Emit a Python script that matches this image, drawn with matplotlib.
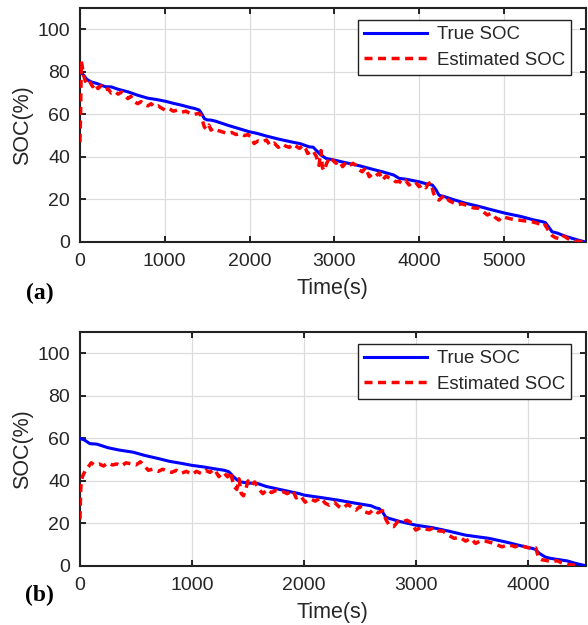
import matplotlib
matplotlib.use('Agg')
import matplotlib.pyplot as plt

plt.rcParams['font.family'] = ['Liberation Sans', 'DejaVu Sans']

# ---- panel (a) ----
t_true_a = [0, 30, 80, 130, 200, 300, 370, 450, 565, 680,
            800, 900, 1004, 1100, 1200, 1300, 1350, 1408, 1440, 1467,
            1500, 1545, 1600, 1741, 1900, 2000, 2094, 2200, 2350, 2500,
            2600, 2706, 2750, 2784, 2840, 2902, 3000, 3176, 3300, 3450,
            3568, 3700, 3765, 3850, 4000, 4100, 4157, 4200, 4235, 4300,
            4400, 4549, 4700, 4850, 5020, 5200, 5350, 5450, 5490, 5530,
            5569, 5630, 5686, 5750, 5850, 5961]
soc_true_a = [80.5, 79, 76.5, 75.3, 74.5, 73, 72.9, 71.8, 70.6, 69,
              67.6, 67, 66.2, 65.2, 64.3, 63.2, 62.8, 62, 60, 58,
              57.4, 57.3, 56.8, 54.9, 53, 51.8, 51, 49.8, 48.3, 47,
              46.2, 44.7, 44.6, 43.2, 41, 39.3, 38.5, 36.9, 35.8, 34.2,
              33, 31.5, 29.9, 29.5, 28.3, 27.2, 26.8, 24.5, 22, 21.3,
              20, 18.2, 16.8, 15.2, 13.5, 12, 10.4, 9.6, 9.1, 7,
              4.8, 4.2, 3.3, 2.4, 1.2, 0]

t_est_a = [0, 8, 15, 25, 40, 60, 94, 120, 150, 180,
           212, 250, 290, 330, 369, 410, 450, 490, 530, 565,
           600, 640, 682, 720, 760, 800, 840, 878, 920, 960,
           1004, 1050, 1100, 1150, 1200, 1250, 1300, 1350, 1400, 1427,
           1445, 1467, 1490, 1520, 1545, 1580, 1620, 1660, 1700, 1741,
           1790, 1840, 1890, 1940, 1980, 2016, 2055, 2100, 2150, 2200,
           2240, 2290, 2340, 2390, 2430, 2470, 2510, 2550, 2590, 2630,
           2660, 2686, 2720, 2750, 2790, 2820, 2843, 2860, 2880, 2910,
           2950, 2980, 3020, 3060, 3098, 3140, 3180, 3220, 3255, 3290,
           3330, 3370, 3412, 3450, 3490, 3530, 3568, 3610, 3650, 3690,
           3725, 3765, 3800, 3840, 3882, 3920, 3960, 4000, 4040, 4080,
           4110, 4140, 4170, 4200, 4235, 4270, 4313, 4350, 4400, 4450,
           4500, 4550, 4600, 4650, 4706, 4750, 4804, 4850, 4900, 4941,
           4980, 5020, 5070, 5120, 5177, 5230, 5280, 5333, 5380, 5420,
           5451, 5490, 5530, 5570, 5610, 5647, 5680, 5720, 5760, 5800,
           5843, 5890, 5940]
soc_est_a = [47, 62, 85, 83, 79, 76, 73.7, 75, 73, 74.5,
             72.1, 73.5, 71.5, 72, 70, 70.8, 69.5, 70.5, 69, 67.4,
             68.5, 66, 65, 66, 64.5, 64, 65, 63.5, 64, 63,
             62, 62.8, 61.5, 62, 61, 61.5, 60.4, 60, 60.5, 59.6,
             57, 54.1, 53, 55, 52.6, 53.5, 52.5, 52, 51.5, 51,
             51.5, 50.5, 51, 50, 50.5, 49.4, 46.3, 47.5, 47, 48,
             45.5, 46.5, 44.5, 46, 45, 44.5, 46, 45, 44, 45.5,
             44, 41.6, 42.5, 43, 40, 36, 43, 35, 33.5, 37,
             40, 38.5, 37, 38, 35.4, 37.5, 36, 37, 36, 34,
             33, 35, 30.7, 32, 31, 32.5, 29.1, 31, 30, 29.5,
             28.3, 28.5, 27.5, 29, 26.8, 28, 28, 26, 27, 25.5,
             27.5, 28, 23, 20.5, 19.7, 21, 22, 19.5, 18.5, 17.4,
             18, 17.4, 16.5, 16, 15.8, 14.5, 12.7, 13.5, 11.5, 10.3,
             12, 11.5, 11, 10.5, 10.3, 10, 9.8, 9.5, 9, 8.5,
             7.2, 8, 5, 3, 2, 1.7, 3.3, 2.5, 1.5, 1,
             0.5, 0.3, 0]

# ---- panel (b) ----
t_true_b = [0, 40, 89, 150, 250, 350, 475, 576, 700, 800,
            900, 1000, 1100, 1200, 1288, 1330, 1370, 1407, 1440, 1500,
            1585, 1662, 1800, 1959, 2003, 2150, 2300, 2450, 2600, 2642,
            2671, 2700, 2730, 2760, 2850, 2998, 3150, 3300, 3443, 3651,
            3800, 3930, 4037, 4066, 4100, 4155, 4200, 4273, 4350, 4420,
            4500]
soc_true_b = [60, 59.2, 57.5, 57.3, 55.6, 54.5, 53.5, 52, 50.5, 49.2,
              48.3, 47.3, 46.6, 45.7, 45, 44.3, 42, 40.3, 39.5, 39,
              38.8, 37.4, 35.8, 34, 33.3, 32.2, 31, 29.6, 28.3, 27.3,
              27, 25.5, 23, 22.4, 21, 19.2, 18, 16.3, 14.5, 13,
              11.3, 9.6, 8.3, 7.8, 6, 4.2, 3.6, 3, 2.4, 1.3,
              0.3]

t_est_b = [0, 6, 12, 30, 50, 80, 100, 130, 170, 210,
           250, 290, 330, 370, 410, 460, 500, 540, 576, 610,
           650, 700, 740, 780, 820, 860, 900, 950, 1000, 1040,
           1080, 1120, 1160, 1200, 1240, 1280, 1318, 1340, 1377, 1400,
           1420, 1440, 1460, 1480, 1500, 1530, 1560, 1600, 1633, 1670,
           1710, 1750, 1810, 1850, 1900, 1930, 1970, 2010, 2060, 2100,
           2150, 2190, 2226, 2270, 2310, 2345, 2390, 2430, 2464, 2500,
           2540, 2583, 2620, 2660, 2702, 2730, 2760, 2800, 2840, 2880,
           2920, 2960, 2998, 3040, 3080, 3120, 3160, 3200, 3240, 3290,
           3340, 3390, 3443, 3490, 3532, 3580, 3620, 3670, 3720, 3770,
           3820, 3860, 3888, 3930, 3970, 4010, 4040, 4070, 4095, 4120,
           4170, 4214, 4260, 4300, 4350, 4390, 4440]
soc_est_b = [22, 35, 40.3, 43, 45, 47, 48.5, 47.5, 48, 47,
             48.5, 47.5, 48, 47, 48.5, 48, 47.5, 49, 47, 45,
             45.5, 44.5, 45.5, 44.5, 44, 45, 43.5, 44.5, 43, 44.5,
             43.5, 45, 44, 45.5, 42, 44, 41.9, 44.5, 37.2, 36,
             41, 34, 33, 36, 40, 38, 39.5, 36, 34, 36,
             34.5, 35.5, 35, 34, 35.5, 32, 33, 30, 31.5, 30.5,
             32, 29.5, 28.6, 30, 28, 27, 29, 27.5, 26.3, 28,
             25.5, 24.8, 26.5, 25, 26, 22, 19.2, 18.5, 21, 20.8,
             21.5, 20.3, 16.9, 18, 17.5, 17, 18, 16.5, 16.4, 14.5,
             13, 13.5, 11.7, 13, 10.6, 12, 11.7, 11, 10, 9,
             10, 9.5, 9, 10, 9, 8.5, 8, 8.5, 3.7, 3,
             2.5, 2, 2.5, 1.5, 0.8, 0.5, 0.3]

panels = [
    (t_true_a, soc_true_a, t_est_a, soc_est_a, 5965, '(a)', -0.22),
    (t_true_b, soc_true_b, t_est_b, soc_est_b, 4515, '(b)', -0.128),
]

fig = plt.figure(figsize=(5.88, 6.25), dpi=100)
txt = '#262626'
bottoms = [0.6128, 0.0944]

for (tt, st, te, se, xmax, tag, tag_y), bot in zip(panels, bottoms):
    ax = fig.add_axes([0.136, bot, 0.860, 0.3744])
    ax.plot(tt, st, color='#0000ff', lw=2.2, label='True SOC', zorder=3)
    ax.plot(te, se, color='#ff0000', lw=2.5, dashes=(2.3, 1.6),
            label='Estimated SOC', zorder=4)
    ax.set_xlim(0, xmax)
    ax.set_ylim(0, 110)
    ax.set_yticks([0, 20, 40, 60, 80, 100])
    ax.grid(True, color='#dcdcdc', lw=0.9)
    ax.set_axisbelow(True)
    ax.tick_params(direction='in', top=True, right=True, length=4,
                   width=1.2, labelsize=14, labelcolor=txt, pad=7)
    ax.tick_params(axis='x', pad=8)
    for s in ax.spines.values():
        s.set_linewidth(1.5)
        s.set_color('#222222')
    ax.set_xlabel('Time(s)', fontsize=15.5, color=txt, labelpad=6)
    ax.set_ylabel('SOC(%)', fontsize=15.5, color=txt, labelpad=3)
    leg = ax.legend(loc='upper right', bbox_to_anchor=(0.972, 0.949),
                    borderaxespad=0, fontsize=13.4, fancybox=False,
                    framealpha=1, edgecolor='#222222', handlelength=3.4,
                    borderpad=0.35, labelspacing=0.45, handletextpad=0.5)
    leg.get_frame().set_linewidth(1.0)
    for t in leg.get_texts():
        t.set_color(txt)
    ax.text(-0.08, tag_y, tag, transform=ax.transAxes, fontsize=17,
            fontweight='bold', family='Liberation Serif', ha='center',
            va='center', color='black')

fig.savefig('out.png', dpi=100)
